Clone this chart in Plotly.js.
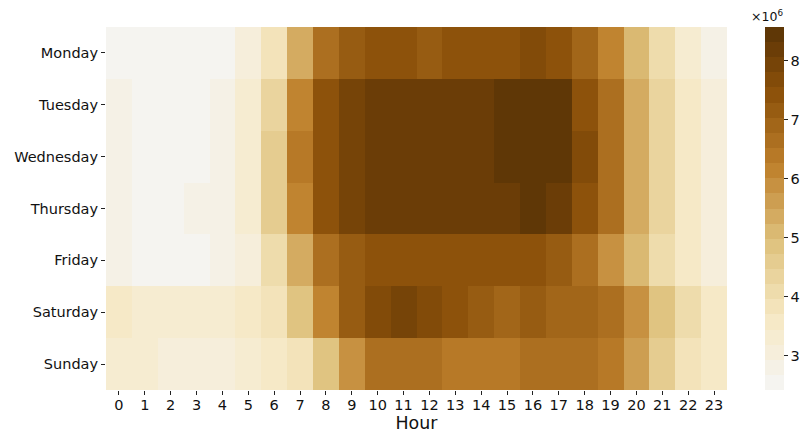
<!DOCTYPE html>
<html>
<head>
<meta charset="utf-8">
<script src="https://cdn.plot.ly/plotly-3.0.1.min.js"></script>
<style>html,body{margin:0;padding:0;background:#fff;}#chart{width:800px;height:434px;}</style>
</head>
<body>
<div id="chart"></div>
<script>
// Categories
const days = ["Monday", "Tuesday", "Wednesday", "Thursday", "Friday", "Saturday", "Sunday"];
const hours = [0,1,2,3,4,5,6,7,8,9,10,11,12,13,14,15,16,17,18,19,20,21,22,23];

// Values per day (counts per hour)
const monday    = [2.42e6,2.55e6,2.55e6,2.55e6,2.55e6,3.06e6,3.83e6,5.37e6,6.65e6,7.16e6,7.42e6,7.42e6,7.16e6,7.42e6,7.42e6,7.42e6,7.67e6,7.42e6,6.90e6,6.13e6,5.11e6,4.08e6,3.31e6,2.80e6];
const tuesday   = [2.80e6,2.55e6,2.55e6,2.55e6,2.80e6,3.31e6,4.34e6,6.13e6,7.42e6,7.93e6,8.18e6,8.18e6,8.18e6,8.18e6,8.18e6,8.44e6,8.57e6,8.44e6,7.42e6,6.65e6,5.37e6,4.34e6,3.57e6,3.06e6];
const wednesday = [2.80e6,2.55e6,2.55e6,2.55e6,2.80e6,3.31e6,4.60e6,6.39e6,7.42e6,7.93e6,8.18e6,8.18e6,8.18e6,8.18e6,8.18e6,8.44e6,8.44e6,8.44e6,7.67e6,6.65e6,5.37e6,4.34e6,3.57e6,3.06e6];
const thursday  = [2.80e6,2.55e6,2.55e6,2.80e6,2.80e6,3.31e6,4.60e6,6.13e6,7.42e6,7.93e6,8.18e6,8.18e6,8.18e6,8.18e6,8.18e6,8.18e6,8.44e6,8.18e6,7.42e6,6.65e6,5.37e6,4.34e6,3.57e6,3.06e6];
const friday    = [2.80e6,2.55e6,2.55e6,2.55e6,2.80e6,3.06e6,4.08e6,5.37e6,6.65e6,7.16e6,7.42e6,7.42e6,7.42e6,7.42e6,7.42e6,7.42e6,7.42e6,7.16e6,6.65e6,5.88e6,5.11e6,4.08e6,3.57e6,3.06e6];
const saturday  = [3.57e6,3.31e6,3.31e6,3.31e6,3.31e6,3.57e6,3.83e6,4.85e6,6.13e6,7.16e6,7.67e6,7.93e6,7.67e6,7.42e6,7.16e6,6.90e6,7.16e6,6.90e6,6.90e6,6.65e6,5.88e6,4.85e6,4.08e6,3.57e6];
const sunday    = [3.31e6,3.31e6,3.06e6,3.06e6,3.06e6,3.31e6,3.57e6,3.83e6,4.85e6,5.88e6,6.65e6,6.65e6,6.65e6,6.39e6,6.39e6,6.39e6,6.65e6,6.65e6,6.65e6,6.39e6,5.62e6,4.60e6,3.83e6,3.57e6];

// Colorbar tick labels
const cbTickVals = [3e6, 4e6, 5e6, 6e6, 7e6, 8e6];
const cbTickText = ["3", "4", "5", "6", "7", "8"];

// Brown half of BrBG, 24 discrete levels (light -> dark)
const stops = [[0.0,[84,48,5]],[0.1,[140,81,10]],[0.2,[191,129,45]],[0.3,[223,194,125]],[0.4,[246,232,195]],[0.5,[245,245,245]]];
function brbg(t){
  for(let i=0;i<stops.length-1;i++){
    const [t0,c0]=stops[i],[t1,c1]=stops[i+1];
    if(t>=t0 && t<=t1){const f=(t-t0)/(t1-t0);return 'rgb('+c0.map((v,j)=>Math.round(v+f*(c1[j]-v))).join(',')+')';}
  }
  return 'rgb(245,245,245)';
}
const N = 24;
const colorscale = [];
for(let k=0;k<N;k++){
  const c = brbg((N-k)/49);
  colorscale.push([k/N, c]);
  colorscale.push([(k+1)/N, c]);
}

const z = [monday, tuesday, wednesday, thursday, friday, saturday, sunday];
const font = "DejaVu Sans, sans-serif";
const txt = '#111';

const trace = {
  type: 'heatmap',
  x: hours, y: days, z: z,
  zmin: 2.417e6, zmax: 8.568e6,
  colorscale: colorscale,
  xgap: 0, ygap: 0,
  hoverongaps: false,
  colorbar: {
    x: 1.0612, xanchor: 'left', xpad: 0, xref: 'paper',
    y: 0.5, yanchor: 'middle', ypad: 0, len: 1, lenmode: 'fraction',
    thickness: 19, thicknessmode: 'pixels',
    outlinewidth: 0,
    tickvals: cbTickVals, ticktext: cbTickText,
    ticks: 'outside', ticklen: 4, tickwidth: 1, tickcolor: '#222',
    tickfont: {family: font, size: 14.5, color: txt}
  }
};

const layout = {
  width: 800, height: 434,
  margin: {l: 106, r: 73, t: 27, b: 44, pad: 0, autoexpand: false},
  paper_bgcolor: '#fff', plot_bgcolor: '#fff',
  font: {family: font, color: txt},
  xaxis: {
    tickvals: hours, ticktext: hours.map(String),
    ticks: 'outside', ticklen: 4, tickwidth: 1, tickcolor: '#222',
    ticklabelstandoff: -2,
    tickfont: {family: font, size: 14.5, color: txt},
    showgrid: false, zeroline: false, showline: false, automargin: false,
    title: {text: 'Hour', font: {family: font, size: 17.4, color: txt}, standoff: 4}
  },
  yaxis: {
    autorange: 'reversed', automargin: false,
    ticks: 'outside', ticklen: 4, tickwidth: 1, tickcolor: '#222',
    tickfont: {family: font, size: 14.5, color: txt},
    showgrid: false, zeroline: false, showline: false
  },
  annotations: [{
    xref: 'paper', yref: 'paper',
    x: 1.0612, xanchor: 'left', xshift: -16,
    y: 1, yanchor: 'bottom', yshift: 1,
    text: '×10<sup>6</sup>', showarrow: false,
    font: {family: font, size: 12.5, color: txt}
  }]
};

Plotly.newPlot('chart', [trace], layout, {displayModeBar: false, staticPlot: true});
</script>
</body>
</html>
